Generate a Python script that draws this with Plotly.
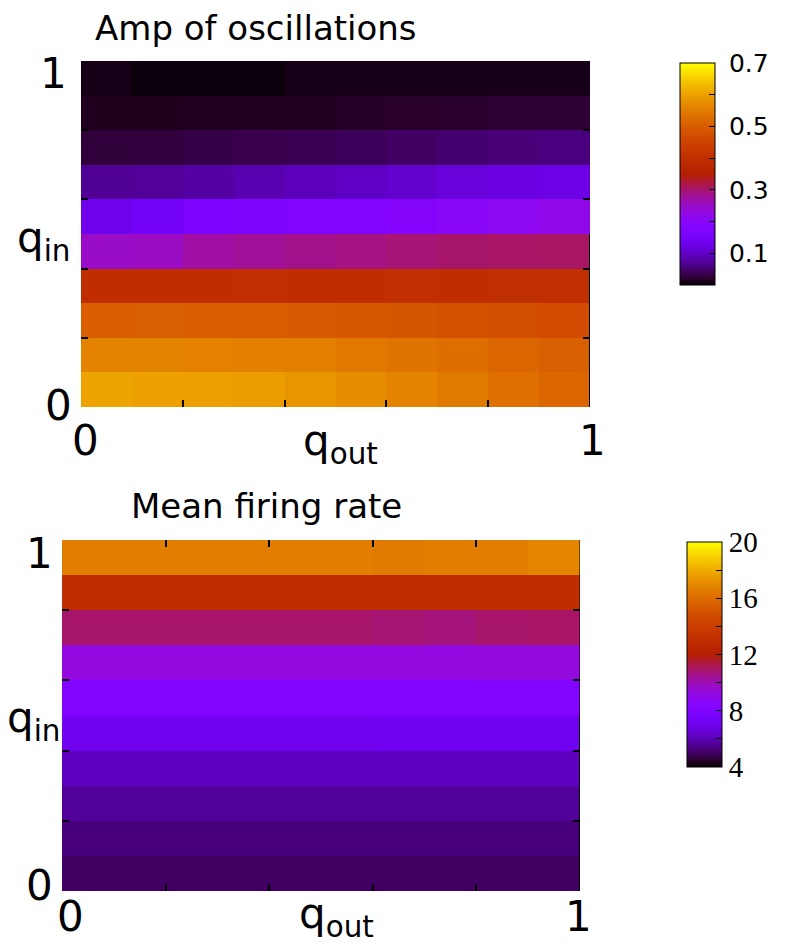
import numpy as np
import plotly.graph_objects as go

# cell centres (q_out along x, q_in along y)
q_out = [0.05, 0.15, 0.25, 0.35, 0.45, 0.55, 0.65, 0.75, 0.85, 0.95]
q_in = [0.05, 0.15, 0.25, 0.35, 0.45, 0.55, 0.65, 0.75, 0.85, 0.95]

# amplitude of oscillations, rows listed from q_in = 0.05 (bottom) to 0.95 (top)
amp_r0 = [0.602, 0.600, 0.598, 0.595, 0.585, 0.575, 0.562, 0.548, 0.530, 0.515]
amp_r1 = [0.560, 0.560, 0.558, 0.556, 0.553, 0.545, 0.537, 0.528, 0.515, 0.505]
amp_r2 = [0.503, 0.505, 0.503, 0.500, 0.497, 0.494, 0.488, 0.480, 0.470, 0.466]
amp_r3 = [0.398, 0.396, 0.397, 0.399, 0.397, 0.398, 0.400, 0.398, 0.399, 0.400]
amp_r4 = [0.250, 0.252, 0.272, 0.278, 0.285, 0.290, 0.297, 0.302, 0.305, 0.306]
amp_r5 = [0.135, 0.145, 0.165, 0.172, 0.175, 0.180, 0.190, 0.200, 0.212, 0.220]
amp_r6 = [0.070, 0.072, 0.078, 0.085, 0.092, 0.098, 0.105, 0.115, 0.122, 0.125]
amp_r7 = [0.025, 0.027, 0.032, 0.034, 0.036, 0.040, 0.045, 0.050, 0.055, 0.058]
amp_r8 = [0.013, 0.013, 0.014, 0.014, 0.015, 0.017, 0.018, 0.019, 0.022, 0.024]
amp_r9 = [0.010, 0.005, 0.005, 0.005, 0.010, 0.010, 0.010, 0.010, 0.011, 0.011]

# mean firing rate, same row order
rate_r0 = [5.0, 5.0, 5.0, 5.0, 5.0, 5.0, 5.0, 5.0, 5.0, 5.0]
rate_r1 = [5.27, 5.27, 5.27, 5.27, 5.27, 5.27, 5.27, 5.27, 5.27, 5.27]
rate_r2 = [5.65, 5.65, 5.65, 5.65, 5.65, 5.65, 5.65, 5.65, 5.65, 5.65]
rate_r3 = [6.17, 6.17, 6.17, 6.17, 6.17, 6.17, 6.17, 6.17, 6.17, 6.17]
rate_r4 = [7.1, 7.1, 7.1, 7.1, 7.1, 7.1, 7.15, 7.15, 7.15, 7.15]
rate_r5 = [8.0, 8.0, 8.0, 8.0, 8.0, 8.05, 8.1, 8.15, 8.15, 8.2]
rate_r6 = [9.25, 9.25, 9.25, 9.25, 9.25, 9.25, 9.25, 9.25, 9.3, 9.3]
rate_r7 = [10.9, 10.9, 10.9, 10.9, 10.9, 10.9, 10.8, 10.7, 10.9, 10.95]
rate_r8 = [13.1, 13.1, 13.1, 13.1, 13.1, 13.1, 13.1, 13.05, 13.1, 13.1]
rate_r9 = [16.6, 16.6, 16.6, 16.6, 16.6, 16.6, 16.5, 16.6, 16.6, 16.9]

amp = [amp_r0, amp_r1, amp_r2, amp_r3, amp_r4, amp_r5, amp_r6, amp_r7, amp_r8, amp_r9]
rate = [rate_r0, rate_r1, rate_r2, rate_r3, rate_r4, rate_r5, rate_r6, rate_r7, rate_r8, rate_r9]

amp_ticks = [0.1, 0.2, 0.3, 0.4, 0.5, 0.6, 0.7]
amp_labels = [" 0.1", " ", " 0.3", " ", " 0.5", " ", " 0.7"]
rate_ticks = [4, 6, 8, 10, 12, 14, 16, 18, 20]
rate_labels = ["4", " ", "8", " ", "12", " ", "16", " ", "20"]


def gnuplot_scale(n=41):
    # gnuplot palette 7,5,15: sqrt(t), t^3, sin(2*pi*t)
    out = []
    for t in np.linspace(0, 1, n):
        r = np.sqrt(t)
        g = t ** 3
        b = max(np.sin(2 * np.pi * t), 0)
        out.append([float(t), "rgb(%d,%d,%d)" % (round(r * 255), round(g * 255), round(b * 255))])
    return out


# the page body adds an 8px margin, so the figure is a bit smaller
# and all positions below are given in window pixels
OFF = 8
W, H = 787 - OFF, 945 - OFF
px = lambda v: (v - OFF) / W
py = lambda v: 1 - (v - OFF) / H

cscale = gnuplot_scale()
fig = go.Figure()

fig.add_trace(go.Heatmap(
    x=q_out, y=q_in, z=amp, colorscale=cscale, zmin=0, zmax=0.7,
    xaxis="x", yaxis="y",
    colorbar=dict(
        x=px(680), xanchor="left", y=py(63), yanchor="top",
        lenmode="pixels", len=222, thickness=35, thicknessmode="pixels",
        outlinecolor="black", outlinewidth=1, xpad=0, ypad=0,
        tickvals=amp_ticks, ticktext=amp_labels, ticks="inside", ticklen=6,
        tickcolor="black", tickfont=dict(family="DejaVu Sans", size=25, color="black"),
    ),
))

fig.add_trace(go.Heatmap(
    x=q_out, y=q_in, z=rate, colorscale=cscale, zmin=4, zmax=20,
    xaxis="x2", yaxis="y2",
    colorbar=dict(
        x=px(687), xanchor="left", y=py(542), yanchor="top",
        lenmode="pixels", len=225, thickness=35, thicknessmode="pixels",
        outlinecolor="black", outlinewidth=1, xpad=0, ypad=0,
        tickvals=rate_ticks, ticktext=rate_labels, ticks="inside", ticklen=6,
        tickcolor="black", tickfont=dict(family="Liberation Serif", size=29, color="black"),
    ),
))

ax = dict(range=[0, 1], showgrid=False, zeroline=False, showticklabels=False,
          ticks="inside", ticklen=7, tickwidth=2, tickcolor="black",
          tickvals=[0, 0.2, 0.4, 0.6, 0.8], showline=False)

fig.update_layout(
    width=W, height=H,
    margin=dict(l=0, r=0, t=0, b=0),
    paper_bgcolor="white", plot_bgcolor="white",
    showlegend=False,
    xaxis=dict(ax, domain=[px(81), px(590)], anchor="y"),
    yaxis=dict(ax, domain=[py(407), py(61)], anchor="x", mirror="ticks"),
    xaxis2=dict(ax, domain=[px(62), px(580)], anchor="y2", mirror="ticks"),
    yaxis2=dict(ax, domain=[py(891), py(540)], anchor="x2", mirror="ticks"),
)

# partial right spines
fig.add_shape(type="line", xref="x", yref="y", x0=1, x1=1, y0=0, y1=0.5,
              line=dict(color="black", width=2))
fig.add_shape(type="line", xref="x2", yref="y2", x0=1, x1=1, y0=0, y1=1,
              line=dict(color="black", width=1))
fig.add_shape(type="line", xref="x2", yref="y2", x0=1, x1=1, y0=0, y1=0.5,
              line=dict(color="black", width=2))

big = dict(family="DejaVu Sans", size=42, color="black")
title_font = dict(family="DejaVu Sans", size=34, color="black")


def label(x, y, text, font=big):
    fig.add_annotation(x=px(x), y=py(y), xref="paper", yref="paper", text=text,
                       showarrow=False, font=font, xanchor="center", yanchor="middle")


label(256, 28, "Amp of oscillations", title_font)
label(53, 73, "1")
label(58, 405, "0")
label(43, 240, "q<sub>in</sub>")
label(85, 440, "0")
label(340, 443, "q<sub>out</sub>")
label(592, 440, "1")

label(266, 506, "Mean firing rate", title_font)
label(40, 553, "1")
label(40, 885, "0")
label(33, 720, "q<sub>in</sub>")
label(70, 916, "0")
label(336, 916, "q<sub>out</sub>")
label(578, 916, "1")

fig.write_html("out.html")
